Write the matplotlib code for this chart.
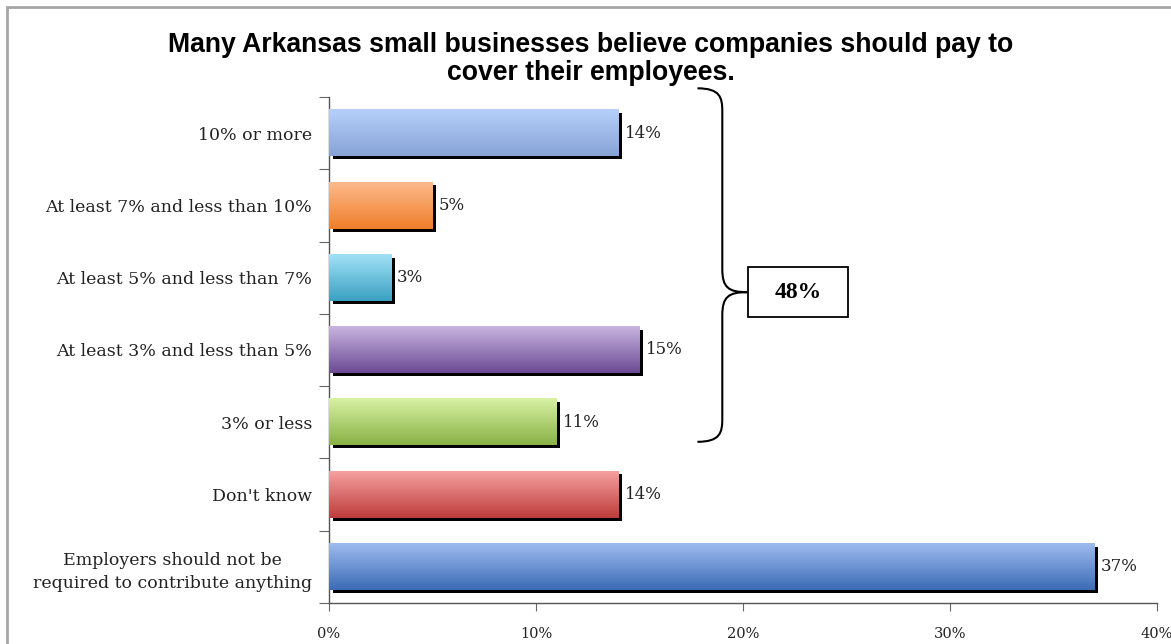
import numpy as np
import matplotlib
matplotlib.use("Agg")
import matplotlib.pyplot as plt
from matplotlib.path import Path
from matplotlib.patches import PathPatch, Rectangle
from matplotlib.colors import LinearSegmentedColormap
from matplotlib.transforms import ScaledTranslation

categories = [
    "10% or more",
    "At least 7% and less than 10%",
    "At least 5% and less than 7%",
    "At least 3% and less than 5%",
    "3% or less",
    "Don't know",
    "Employers should not be\nrequired to contribute anything",
]
values = [14, 5, 3, 15, 11, 14, 37]
# (top colour, bottom colour) of each bar's gradient
bar_colors = [
    ("#b6d0fa", "#87a3d6"),
    ("#fcb98b", "#ef7f2a"),
    ("#a2e1f7", "#3aa1c2"),
    ("#c7b4e0", "#6c4b94"),
    ("#d8f1a4", "#89b246"),
    ("#f5a09f", "#be3d3b"),
    ("#9dbbef", "#3c6cb6"),
]
x_ticks = [0, 10, 20, 30, 40]
bracket_group = [0, 1, 2, 3, 4]

title = ("Many Arkansas small businesses believe companies should pay to\n"
         "cover their employees.")

SERIF = ["DejaVu Serif"]

fig = plt.figure(figsize=(11.71, 6.44), dpi=100)
ax = fig.add_axes([329 / 1171, 41 / 644, (1157 - 329) / 1171, (603 - 97) / 644])

# outer chart border
fig.patches.append(Rectangle((7 / 1171, -0.1), 1.2, 1 - 7 / 644 + 0.1,
                             transform=fig.transFigure, fill=False,
                             edgecolor="#a6a6a6", linewidth=2))

bar_h = 0.64
shadow = ax.transData + ScaledTranslation(0.035, -0.03, fig.dpi_scale_trans)
grad = np.linspace(0, 1, 64).reshape(-1, 1)
for i, (v, (c_top, c_bot)) in enumerate(zip(values, bar_colors)):
    ax.add_patch(Rectangle((0, i - bar_h / 2), v, bar_h, facecolor="black",
                           edgecolor="none", transform=shadow, zorder=2))
    cmap = LinearSegmentedColormap.from_list("g%d" % i, [c_top, c_bot])
    ax.imshow(grad, cmap=cmap, aspect="auto", zorder=3,
              extent=[0, v, i + bar_h / 2, i - bar_h / 2])
    ax.annotate("%d%%" % v, (v, i), xytext=(6, 0), textcoords="offset pixels",
                va="center", ha="left", fontsize=12, family=SERIF,
                color="#222222")

ax.set_xlim(0, 40)
ax.set_ylim(len(categories) - 0.5, -0.5)

# category ticks sit between the bars, labels at the bar centres
ax.set_yticks(np.arange(-0.5, len(categories)))
ax.set_yticklabels([])
ax.set_yticks(np.arange(len(categories)), minor=True)
ax.set_yticklabels(categories, minor=True, fontsize=12.5, family=SERIF,
                   color="#222222", multialignment="center", linespacing=1.45)
ax.tick_params(axis="y", which="minor", length=0, pad=12)
ax.tick_params(axis="y", which="major", length=7, color="#666666")

ax.set_xticks(x_ticks)
ax.set_xticklabels(["%d%%" % t for t in x_ticks], fontsize=10.5, family=SERIF,
                   color="#222222")
ax.tick_params(axis="x", length=6, color="#666666", pad=11)

for side in ["top", "right"]:
    ax.spines[side].set_visible(False)
for side in ["left", "bottom"]:
    ax.spines[side].set_color("#555555")
    ax.spines[side].set_linewidth(1)

fig.text(591 / 1171, 1 - 59 / 644, title, ha="center", va="center",
         fontsize=19.2, fontweight="bold", family="Liberation Sans",
         linespacing=1.15)

# curly bracket around the contributing groups
xv, xe, xt = 19.0, 17.8, 20.2
y0, y1, ym = -0.62, 4.27, 2.2
r = 0.32
verts = [
    (xe, y0), (xv - 0.1, y0), (xv, y0 + r * 0.4), (xv, y0 + r),
    (xv, ym - r),
    (xv, ym - r * 0.2), (xv + 0.3, ym), (xt, ym),
    (xv + 0.3, ym), (xv, ym + r * 0.2), (xv, ym + r),
    (xv, y1 - r),
    (xv, y1 - r * 0.4), (xv - 0.1, y1), (xe, y1),
]
codes = [Path.MOVETO, Path.CURVE4, Path.CURVE4, Path.CURVE4,
         Path.LINETO,
         Path.CURVE4, Path.CURVE4, Path.CURVE4,
         Path.CURVE4, Path.CURVE4, Path.CURVE4,
         Path.LINETO,
         Path.CURVE4, Path.CURVE4, Path.CURVE4]
ax.add_patch(PathPatch(Path(verts, codes), fill=False, edgecolor="black",
                       linewidth=1.5, clip_on=False, zorder=4))

total = sum(values[i] for i in bracket_group)
ax.add_patch(Rectangle((20.25, 1.85), 4.8, 0.69, facecolor="white",
                       edgecolor="black", linewidth=1.3, zorder=4))
ax.text(22.65, 2.2, "%d%%" % total, ha="center", va="center", fontsize=17,
        fontweight="bold", family="Liberation Serif", zorder=5)

fig.savefig("out.png", dpi=100)
